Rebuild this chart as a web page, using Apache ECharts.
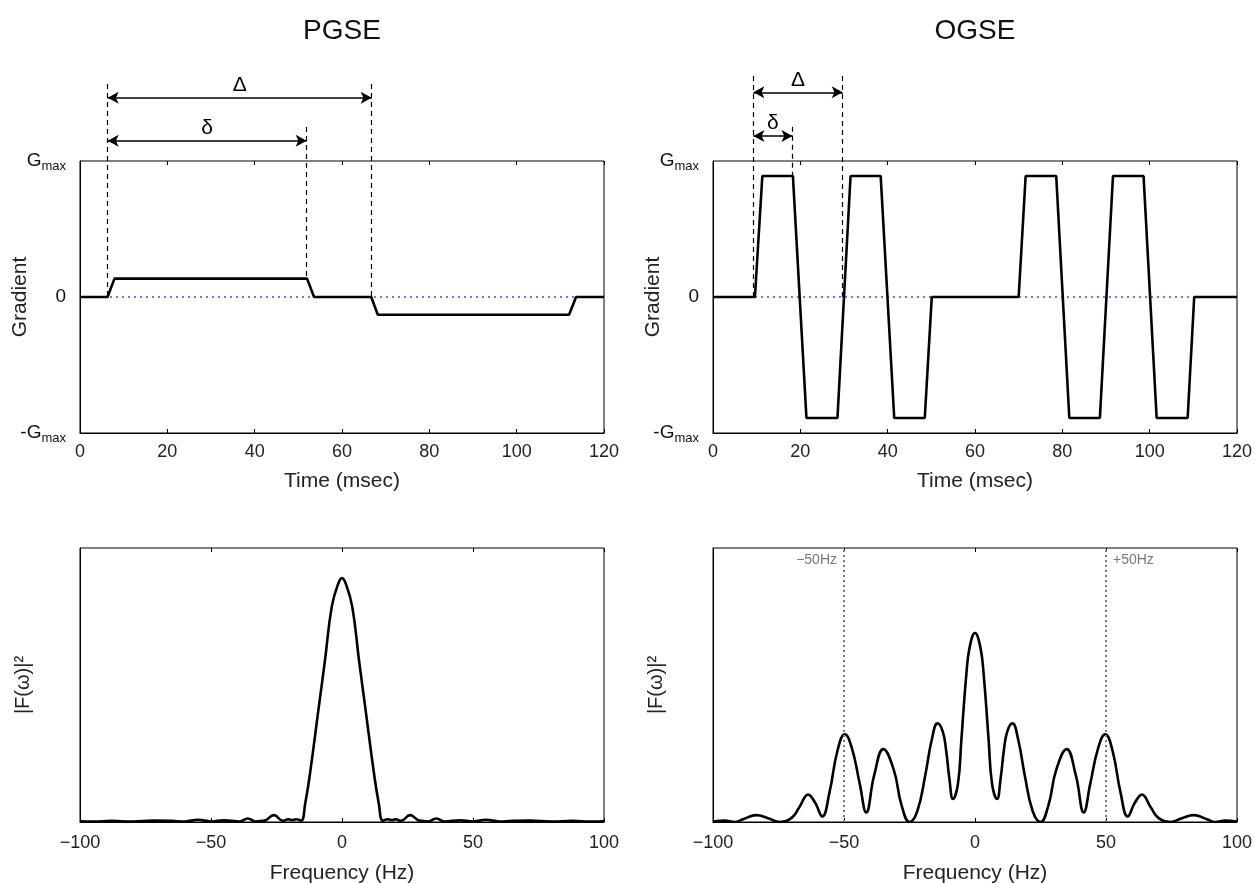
<!DOCTYPE html>
<html>
<head>
<meta charset="utf-8">
<script src="https://cdn.jsdelivr.net/npm/echarts@6/dist/echarts.min.js"></script>
<style>
html,body{margin:0;padding:0;background:#fff;}
#chart{width:1255px;height:883px;}
</style>
</head>
<body>
<div id="chart"></div>
<script>
// ---------- DATA ----------
// PGSE gradient waveform (time in ms, gradient relative to Gmax)
const pgseTime = [0, 6.3, 7.9, 52.0, 53.6, 66.7, 68.2, 112.0, 113.6, 120];
const pgseGrad = [0, 0, 0.135, 0.135, 0, 0, -0.13, -0.13, 0, 0];

// OGSE gradient waveform
const ogseTime = [0, 9.6, 11.3, 18.3, 21.4, 28.5, 31.5, 38.4, 41.5, 48.5, 50.1, 70.0, 71.6, 78.6, 81.6, 88.6, 91.6, 98.6, 101.6, 108.7, 110.2, 120];
const ogseGrad = [0, 0, 0.89, 0.89, -0.89, -0.89, 0.89, 0.89, -0.89, -0.89, 0, 0, 0.89, 0.89, -0.89, -0.89, 0.89, 0.89, -0.89, -0.89, 0, 0];

// PGSE spectrum |F(w)|^2 (relative units)
const pgseFreq = [-100, -95, -88, -80, -72, -65, -60, -55, -50, -45, -39, -36, -33, -29.5, -26, -22.5, -20.5, -19, -17.5, -15.6, -14, -12.2, -9, -6.5, -3.9, -1.4, 0, 1.4, 3.9, 6.5, 9, 12.2, 14, 15.6, 17.5, 19, 20.5, 22.5, 26, 29.5, 33, 36, 39, 45, 50, 55, 60, 65, 72, 80, 88, 95, 100];
const pgsePower = [0.003, 0.002, 0.004, 0.002, 0.005, 0.004, 0.002, 0.008, 0.002, 0.006, 0.002, 0.013, 0.002, 0.005, 0.025, 0.004, 0.01, 0.007, 0.01, 0.005, 0.07, 0.178, 0.409, 0.59, 0.786, 0.871, 0.89, 0.871, 0.786, 0.59, 0.409, 0.178, 0.07, 0.005, 0.01, 0.007, 0.01, 0.004, 0.025, 0.005, 0.002, 0.013, 0.002, 0.006, 0.002, 0.008, 0.002, 0.004, 0.005, 0.002, 0.004, 0.002, 0.003];

// OGSE spectrum
const ogseFreq = [-100, -95.5, -91.7, -88.5, -83.5, -79, -74.5, -70, -67, -63.7, -61, -58.3, -55.5, -52.5, -49.7, -47, -44, -41.5, -38.5, -35, -31, -28, -25, -22, -19, -16.5, -14.3, -12.3, -11, -9.8, -8.4, -6.5, -5.2, -3.3, -2, 0, 2, 3.3, 5.2, 6.5, 8.4, 9.8, 11, 12.3, 14.3, 16.5, 19, 22, 25, 28, 31, 35, 38.5, 41.5, 44, 47, 49.7, 52.5, 55.5, 58.3, 61, 63.7, 67, 70, 74.5, 79, 83.5, 88.5, 91.7, 95.5, 100];
const ogsePower = [0.002, 0.005, 0, 0.01, 0.025, 0.014, 0, 0.015, 0.055, 0.10, 0.07, 0.02, 0.11, 0.26, 0.32, 0.27, 0.14, 0.035, 0.17, 0.266, 0.19, 0.06, 0, 0.04, 0.17, 0.30, 0.36, 0.33, 0.26, 0.16, 0.084, 0.14, 0.30, 0.54, 0.64, 0.69, 0.64, 0.54, 0.30, 0.14, 0.084, 0.16, 0.26, 0.33, 0.36, 0.30, 0.17, 0.04, 0, 0.06, 0.19, 0.266, 0.17, 0.035, 0.14, 0.27, 0.32, 0.26, 0.11, 0.02, 0.07, 0.10, 0.055, 0.015, 0, 0.014, 0.025, 0.01, 0, 0.005, 0.002];

// Annotations (timing marks, ms) and their heights (relative to Gmax)
const pgseMarks = {start: 6.34, deltaSmall: 51.9, deltaBig: 66.8, topY: 1.566, smallTopY: 1.25, smallEndY: 0.135, bigArrowY: 1.465, smallArrowY: 1.149};
const ogseMarks = {start: 9.25, deltaSmall: 18.2, deltaBig: 29.7, topY: 1.625, smallTopY: 1.252, smallEndY: 0.89, bigArrowY: 1.505, smallArrowY: 1.184};

const freqMarkers = [-50, 50];
const freqMarkerLabels = ['\u221250Hz', '+50Hz'];

const titles = ['PGSE', 'OGSE'];
const timeTicks = [0, 120, 20];
const freqTicks = [-100, 100, 50];

// ---------- BUILD ----------
const FONT = '"Liberation Sans", Arial, sans-serif';
const zip = (a, b) => a.map((v, i) => [v, b[i]]);

const L1 = 80, L2 = 713, W = 524;
const TOP_T = 161, TOP_H = 272;
const BOT_T = 548, BOT_H = 274;
const OV_MAX = 1.7;
const OV_H = TOP_H / 2 * (OV_MAX + 1);
const OV_T = TOP_T + TOP_H - OV_H;

const gridStyle = {show: true, borderColor: '#000', borderWidth: 1, backgroundColor: 'transparent', outerBoundsMode: 'none', containLabel: false};
const grids = [
  Object.assign({left: L1, top: TOP_T, width: W, height: TOP_H}, gridStyle),
  Object.assign({left: L2, top: TOP_T, width: W, height: TOP_H}, gridStyle),
  Object.assign({left: L1, top: BOT_T, width: W, height: BOT_H}, gridStyle),
  Object.assign({left: L2, top: BOT_T, width: W, height: BOT_H}, gridStyle),
  {left: L1, top: OV_T, width: W, height: OV_H, show: false, outerBoundsMode: 'none'},
  {left: L2, top: OV_T, width: W, height: OV_H, show: false, outerBoundsMode: 'none'}
];

const tickLabelStyle = {fontFamily: FONT, fontSize: 18, color: '#222'};
const nameStyle = {fontFamily: FONT, fontSize: 21, color: '#222'};

function bottomAxis(gi, ticks, name, fmt, gap, margin) {
  return {
    type: 'value', gridIndex: gi, position: 'bottom',
    min: ticks[0], max: ticks[1], interval: ticks[2],
    name: name, nameLocation: 'middle', nameGap: gap, nameTextStyle: nameStyle, nameMoveOverlap: false,
    axisLine: {show: true, onZero: false, lineStyle: {color: '#000', width: 1}},
    axisTick: {show: true, inside: true, length: 4, lineStyle: {color: '#000'}},
    axisLabel: Object.assign({margin: margin, formatter: fmt}, tickLabelStyle),
    splitLine: {show: false}
  };
}
function topAxis(gi, ticks) {
  return {
    type: 'value', gridIndex: gi, position: 'top',
    min: ticks[0], max: ticks[1], interval: ticks[2],
    axisLine: {show: false, onZero: false},
    axisTick: {show: true, inside: true, length: 4, lineStyle: {color: '#000'}},
    axisLabel: {show: false}, splitLine: {show: false}
  };
}
const freqFmt = v => (v < 0 ? '\u2212' + Math.abs(v) : String(v));

const xAxes = [
  bottomAxis(0, timeTicks, 'Time (msec)', null, 38, 10),
  topAxis(0, timeTicks),
  bottomAxis(1, timeTicks, 'Time (msec)', null, 38, 10),
  topAxis(1, timeTicks),
  bottomAxis(2, freqTicks, 'Frequency (Hz)', freqFmt, 41, 12),
  topAxis(2, freqTicks),
  bottomAxis(3, freqTicks, 'Frequency (Hz)', freqFmt, 41, 12),
  topAxis(3, freqTicks),
  {type: 'value', gridIndex: 4, min: 0, max: 120, show: false},
  {type: 'value', gridIndex: 5, min: 0, max: 120, show: false}
];

const gradRich = {
  g: {fontFamily: FONT, fontSize: 19, color: '#111'},
  s: {fontFamily: FONT, fontSize: 13, color: '#111', padding: [11, 0, 0, 0]}
};
function gradAxis(gi) {
  return {
    type: 'value', gridIndex: gi, min: -1, max: 1, interval: 1,
    name: 'Gradient', nameLocation: 'middle', nameGap: 49, nameTextStyle: nameStyle, nameMoveOverlap: false,
    axisLine: {show: true, onZero: false, lineStyle: {color: '#000', width: 1}},
    axisTick: {show: false},
    axisLabel: {
      margin: 14,
      formatter: v => v === 1 ? '{g|G}{s|max}' : (v === -1 ? '{g|-G}{s|max}' : '{g|0}'),
      rich: gradRich
    },
    splitLine: {show: false}
  };
}
function specAxis(gi) {
  return {
    type: 'value', gridIndex: gi, min: 0, max: 1,
    name: '|F(\u03c9)|\u00b2', nameLocation: 'middle', nameGap: 47, nameMoveOverlap: false,
    nameTextStyle: {fontFamily: FONT, fontSize: 20, color: '#222'},
    axisLine: {show: true, onZero: false, lineStyle: {color: '#000', width: 1}},
    axisTick: {show: false}, axisLabel: {show: false}, splitLine: {show: false}
  };
}
const yAxes = [
  gradAxis(0), gradAxis(1), specAxis(2), specAxis(3),
  {type: 'value', gridIndex: 4, min: -1, max: OV_MAX, show: false},
  {type: 'value', gridIndex: 5, min: -1, max: OV_MAX, show: false}
];

const blackLine = {color: '#000', width: 2.6};

function annotationSeries(ov, m) {
  const xi = 8 + ov, yi = 4 + ov;
  const dashed = {
    type: 'line', xAxisIndex: xi, yAxisIndex: yi, data: [], silent: true, z: 5,
    markLine: {
      silent: true, symbol: ['none', 'none'], animation: false,
      lineStyle: {type: [5, 4], color: '#000', width: 1.2},
      label: {show: false},
      data: [
        [{coord: [m.start, m.topY]}, {coord: [m.start, 0]}],
        [{coord: [m.deltaSmall, m.smallTopY]}, {coord: [m.deltaSmall, m.smallEndY]}],
        [{coord: [m.deltaBig, m.topY]}, {coord: [m.deltaBig, 0]}]
      ]
    }
  };
  const arrows = {
    type: 'line', xAxisIndex: xi, yAxisIndex: yi, data: [], silent: true, z: 6,
    markLine: {
      silent: true, symbol: ['arrow', 'arrow'], symbolSize: [9, 11], animation: false,
      lineStyle: {type: 'solid', color: '#000', width: 1.6},
      label: {show: true, position: 'insideMiddleTop', distance: 2, fontFamily: FONT, fontSize: 21, color: '#000'},
      data: [
        [{coord: [m.start, m.bigArrowY], label: {formatter: '\u0394'}}, {coord: [m.deltaBig, m.bigArrowY]}],
        [{coord: [m.start, m.smallArrowY], label: {formatter: '\u03b4'}}, {coord: [m.deltaSmall, m.smallArrowY]}]
      ]
    }
  };
  return [dashed, arrows];
}

const zeroLine = (xi, yi) => ({
  type: 'line', xAxisIndex: xi, yAxisIndex: yi, data: [[timeTicks[0], 0], [timeTicks[1], 0]],
  symbol: 'none', silent: true, z: 1,
  lineStyle: {color: '#4444ff', width: 1.4, type: [2, 4]}
});

const series = [
  zeroLine(0, 0),
  {type: 'line', xAxisIndex: 0, yAxisIndex: 0, data: zip(pgseTime, pgseGrad), symbol: 'none', lineStyle: blackLine, z: 3},
  zeroLine(2, 1),
  {type: 'line', xAxisIndex: 2, yAxisIndex: 1, data: zip(ogseTime, ogseGrad), symbol: 'none', lineStyle: blackLine, z: 3},
  {type: 'line', xAxisIndex: 4, yAxisIndex: 2, data: zip(pgseFreq, pgsePower), symbol: 'none', smooth: 0.45, lineStyle: blackLine, z: 3},
  {type: 'line', xAxisIndex: 6, yAxisIndex: 3, data: zip(ogseFreq, ogsePower), symbol: 'none', smooth: 0.45, lineStyle: blackLine, z: 3,
    markLine: {
      silent: true, symbol: ['none', 'none'], animation: false,
      lineStyle: {type: [2, 3], color: '#777', width: 2},
      label: {show: false},
      data: freqMarkers.map(f => ({xAxis: f}))
    }
  },
  {type: 'scatter', xAxisIndex: 6, yAxisIndex: 3, symbolSize: 0, silent: true,
    data: freqMarkers.map((f, i) => ({
      value: [f, 0.956],
      label: {show: true, formatter: freqMarkerLabels[i], position: i === 0 ? 'left' : 'right', distance: 7,
        fontFamily: FONT, fontSize: 14, color: '#555'}
    }))
  }
].concat(annotationSeries(0, pgseMarks), annotationSeries(1, ogseMarks));

const option = {
  animation: false,
  backgroundColor: '#fff',
  title: [
    {text: titles[0], left: L1 + W / 2, top: 17, textAlign: 'center', padding: 0,
      textStyle: {fontFamily: FONT, fontSize: 28, fontWeight: 'normal', color: '#111'}},
    {text: titles[1], left: L2 + W / 2, top: 17, textAlign: 'center', padding: 0,
      textStyle: {fontFamily: FONT, fontSize: 28, fontWeight: 'normal', color: '#111'}}
  ],
  grid: grids,
  xAxis: xAxes,
  yAxis: yAxes,
  series: series
};

const chart = echarts.init(document.getElementById('chart'), null, {renderer: 'canvas'});
chart.setOption(option);
</script>
</body>
</html>
